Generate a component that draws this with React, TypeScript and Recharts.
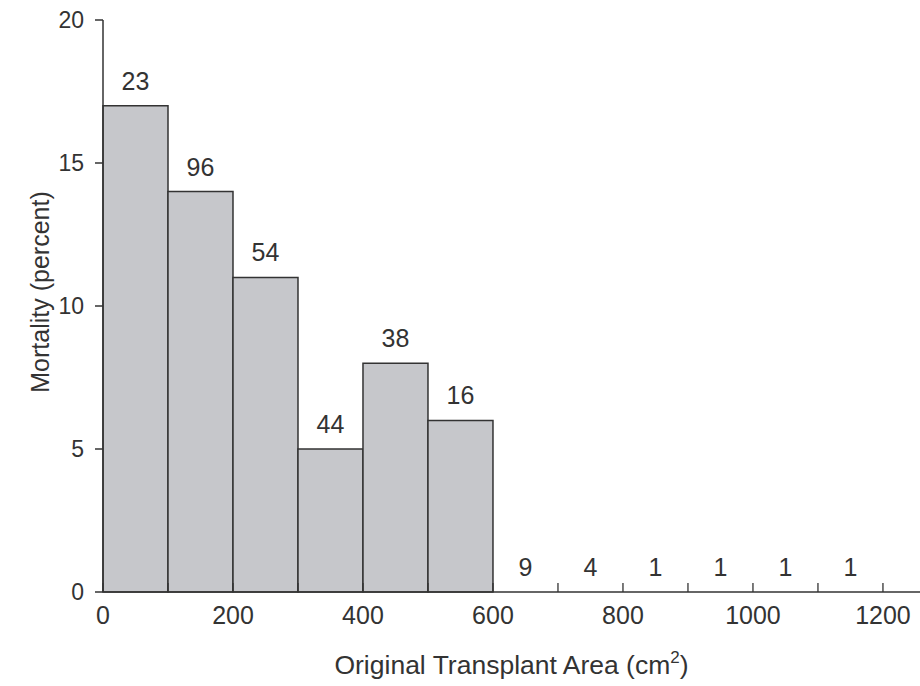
import React from 'react'
import { ComposedChart, Bar, Line, XAxis, YAxis, LabelList } from 'recharts'

// bins of 100 cm2 each
const binStarts = [0, 100, 200, 300, 400, 500, 600, 700, 800, 900, 1000, 1100]
const binWidth = 100
const mortality = [17, 14, 11, 5, 8, 6, 0, 0, 0, 0, 0, 0]
const transplants = [23, 96, 54, 44, 38, 16, 9, 4, 1, 1, 1, 1]
const xTicks = [0, 100, 200, 300, 400, 500, 600, 700, 800, 900, 1000, 1100, 1200]
const xTickLabelStep = 200
const yTicks = [0, 5, 10, 15, 20]

const data = binStarts.map((start, i) => ({
  mid: start + binWidth / 2,
  pct: mortality[i],
  n: transplants[i],
}))

const INK = '#333333'
const FONT = '"Liberation Sans", Arial, sans-serif'

function AreaTick({ x, y, payload }: any) {
  const v = payload.value
  return (
    <g>
      <line x1={x} x2={x} y1={y - 9} y2={y} stroke={INK} strokeWidth={1.3} />
      {v % xTickLabelStep === 0 && (
        <text x={x} y={y + 14} dy="0.71em" textAnchor="middle" fontSize={25} fill={INK} fontFamily={FONT}>
          {v}
        </text>
      )}
    </g>
  )
}

function PctTick({ x, y, payload }: any) {
  return (
    <text x={x} y={y} textAnchor="end" dominantBaseline="central" fontSize={23} fill={INK} fontFamily={FONT}>
      {payload.value}
    </text>
  )
}

function XTitle({ viewBox }: any) {
  const cx = viewBox.x + viewBox.width / 2
  return (
    <text x={cx} y={viewBox.y + 82} textAnchor="middle" fontSize={26.5} fill={INK} fontFamily={FONT}>
      Original Transplant Area (cm
      <tspan dy={-11} fontSize={17}>2</tspan>
      <tspan dy={11}>)</tspan>
    </text>
  )
}

function YTitle({ viewBox }: any) {
  const cy = viewBox.y + viewBox.height / 2 - 14
  return (
    <text
      transform={`translate(40, ${cy}) rotate(-90)`}
      textAnchor="middle"
      dominantBaseline="central"
      fontSize={25}
      fill={INK}
      fontFamily={FONT}
    >
      Mortality (percent)
    </text>
  )
}

export default function App() {
  return (
    <div style={{ position: 'absolute', left: 0, top: 0, width: 920, height: 686, background: '#fff' }}>
      <ComposedChart
        width={920}
        height={686}
        data={data}
        margin={{ top: 20, right: 0, bottom: 0, left: 0 }}
        barCategoryGap={0}
        barGap={0}
        style={{ fontFamily: FONT }}
      >
        <XAxis
          type="number"
          dataKey="mid"
          domain={[0, 1257]}
          ticks={xTicks}
          interval={0}
          height={94}
          tickLine={false}
          tickSize={0}
          tickMargin={0}
          tick={<AreaTick />}
          axisLine={{ stroke: INK, strokeWidth: 1.5 }}
          label={{ content: XTitle }}
        />
        <YAxis
          domain={[0, 20]}
          ticks={yTicks}
          width={103}
          tickSize={8}
          tickMargin={11}
          tick={<PctTick />}
          tickLine={{ stroke: INK, strokeWidth: 1.5 }}
          axisLine={{ stroke: INK, strokeWidth: 1.5 }}
          label={{ content: YTitle }}
        />
        <Bar dataKey="pct" fill="#c6c7cb" stroke={INK} strokeWidth={1.5} isAnimationActive={false} />
        {/* invisible series carrying the sample-size labels, so empty bins get one too */}
        <Line dataKey="pct" stroke="none" dot={false} activeDot={false} isAnimationActive={false}>
          <LabelList dataKey="n" position="top" offset={16} fontSize={25} fill={INK} fontFamily={FONT} />
        </Line>
      </ComposedChart>
    </div>
  )
}
